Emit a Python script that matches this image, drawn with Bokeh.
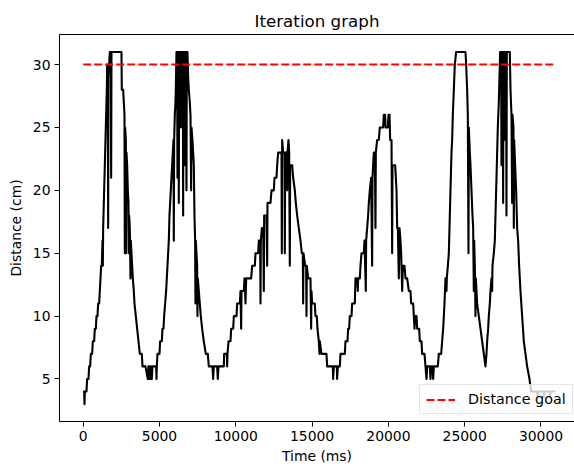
from bokeh.plotting import figure
from bokeh.models import (Range1d, SingleIntervalTicker, LinearAxis, FixedTicker,
                          Legend, LegendItem)
from bokeh.embed import file_html
from bokeh.resources import INLINE

title_text = "Iteration graph"
x_label = "Time (ms)"
y_label = "Distance (cm)"
goal_label = "Distance goal"
goal_distance = 30
goal_time = [0, 30949]

# ---- measured trace, first two peaks (0 .. ~8.9 s) ----
time_a = [0, 63, 85, 106, 215, 259, 347, 390, 456, 500,
          587, 631, 718, 762, 827, 871, 936, 980, 1045, 1089,
          1133, 1176, 1220, 1242, 1264, 1286, 1308, 1351, 1373, 1417,
          1438, 1482, 1504, 1548, 1570, 1613, 1635, 1657, 1700, 1744,
          1810, 1832, 1854, 2006, 2509, 2530, 2618, 2661, 2705, 2727,
          2749, 2793, 2814, 2836, 2880, 2924, 2967, 2989, 3011, 3055,
          3099, 3120, 3164, 3208, 3251, 3317, 3361, 3448, 3535, 3623,
          3710, 3841, 3885, 4081, 4234, 4278, 4322, 4365, 4409, 4453,
          4496, 4540, 4780, 4802, 4824, 4868, 4999, 5042, 5151, 5195,
          5261, 5304, 5370, 5435, 5479, 5523, 5566, 5610, 5654, 5697,
          5741, 5785, 5828, 5872, 5916, 5938, 5960, 6003, 6047, 6069,
          6113, 6156, 6178, 6200, 6244, 6265, 6287, 6375, 6397, 6419,
          6528, 6550, 6571, 6637, 6659, 6681, 6746, 6768, 6790, 6833,
          6877, 6921, 6986, 7030, 7074, 7095, 7160, 7204, 7248, 7292,
          7335, 7357, 7379, 7423, 7466, 7488, 7510, 7576, 7641, 7707,
          7794, 7903, 8034, 8165, 8231, 8471, 8515, 8559, 8777, 8821,
          8865]
dist_a = [4, 4, 3, 4, 4, 5, 5, 6, 6, 7,
          7, 8, 8, 9, 9, 10, 10, 11, 11, 12,
          13, 14, 14, 15, 16, 14, 17, 19, 20, 22,
          23, 25, 26, 28, 30, 30, 17, 29, 30, 31,
          31, 21, 31, 31, 31, 28, 28, 27, 26, 15,
          25, 24, 15, 23, 22, 20, 19, 15, 18, 17,
          13, 16, 15, 14, 13, 12, 11, 10, 9, 8,
          7, 7, 6, 6, 5, 6, 5, 6, 5, 6,
          5, 6, 6, 5, 6, 7, 7, 8, 8, 9,
          9, 10, 11, 12, 13, 14, 15, 16, 18, 19,
          20, 21, 22, 23, 24, 16, 24, 26, 27, 28,
          31, 31, 21, 31, 31, 19, 31, 31, 25, 31,
          31, 18, 31, 31, 22, 31, 31, 20, 31, 31,
          29, 28, 27, 26, 20, 25, 24, 23, 22, 18,
          16, 11, 16, 15, 14, 10, 13, 12, 11, 10,
          9, 8, 7, 7, 6, 6, 5, 6, 6, 5,
          6]

# ---- third peak and valley (~9 .. ~19.8 s) ----
time_b = [9216, 9238, 9413, 9435, 9457, 9522, 9653, 9697, 9828, 9872,
          10046, 10090, 10265, 10308, 10352, 10374, 10527, 10571, 10636, 10680,
          11007, 11073, 11248, 11291, 11466, 11510, 11597, 11619, 11641, 11706,
          11794, 11837, 11859, 12012, 12056, 12077, 12274, 12340, 12493, 12536,
          12667, 12711, 12776, 12995, 13017, 13038, 13104, 13191, 13213, 13235,
          13322, 13366, 13388, 13453, 13497, 13540, 13562, 13694, 13759, 13868,
          13934, 14021, 14130, 14240, 14327, 14392, 14414, 14436, 14545, 14611,
          14633, 14655, 14742, 14894, 14938, 14960, 15004, 15179, 15222, 15310,
          15353, 15441, 15484, 15506, 15616, 15943, 15987, 16358, 16380, 16424,
          16620, 16642, 16686, 16817, 16860, 17144, 17188, 17319, 17363, 17428,
          17472, 17581, 17625, 17800, 17843, 17952, 17996, 18018, 18127, 18171,
          18236, 18389, 18433, 18520, 18542, 18608, 18673, 18717, 18783, 18870,
          18935, 18957, 19001, 19045, 19110, 19154, 19176, 19263, 19372, 19438,
          19656, 19700, 19787]
dist_b = [6, 7, 7, 6, 7, 8, 8, 9, 9, 10,
          10, 11, 11, 12, 9, 12, 12, 13, 11, 13,
          13, 14, 14, 15, 15, 16, 16, 11, 16, 17,
          17, 12, 18, 18, 14, 19, 19, 20, 20, 21,
          21, 22, 23, 23, 15, 24, 23, 23, 15, 23,
          23, 20, 23, 24, 23, 14, 22, 22, 21, 20,
          19, 18, 17, 16, 15, 15, 11, 15, 14, 14,
          10, 14, 13, 13, 9, 12, 11, 11, 10, 10,
          9, 8, 7, 8, 7, 7, 6, 6, 5, 6,
          6, 5, 6, 6, 7, 7, 8, 8, 9, 9,
          10, 10, 11, 11, 13, 13, 12, 13, 13, 14,
          15, 15, 16, 12, 16, 17, 18, 19, 20, 21,
          14, 21, 22, 23, 23, 17, 23, 24, 24, 25,
          25, 26, 26]

# ---- fourth peak to the end (~19.8 .. ~31 s) ----
time_c = [19811, 19963, 20007, 20073, 20116, 20204, 20247, 20269, 20444, 20488,
          20531, 20575, 20619, 20684, 20728, 20793, 20837, 20903, 20946, 21055,
          21121, 21230, 21339, 21449, 21492, 21623, 21667, 21711, 21754, 21842,
          21885, 22016, 22060, 22169, 22213, 22366, 22431, 22497, 22541, 22715,
          22759, 22803, 22890, 22934, 22977, 23239, 23305, 23458, 23523, 23589,
          23633, 23676, 23742, 23807, 23829, 23895, 23960, 24004, 24047, 24091,
          24135, 24178, 24222, 24288, 24353, 24441, 25052, 25096, 25161, 25205,
          25249, 25271, 25336, 25380, 25445, 25511, 25555, 25598, 25620, 25664,
          25707, 25729, 25817, 25926, 26035, 26144, 26253, 26362, 26428, 26472,
          26537, 26581, 26647, 26690, 26756, 26799, 26821, 26909, 26974, 27018,
          27084, 27127, 27171, 27236, 27280, 27323, 27389, 27411, 27433, 27498,
          27520, 27542, 27629, 27651, 27673, 27716, 27738, 27760, 27957, 28001,
          28066, 28110, 28132, 28197, 28219, 28241, 28306, 28372, 28437, 28503,
          28568, 28656, 28765, 28874, 28984, 29093, 29246, 29356, 29749, 29771,
          29793, 30185, 30207, 30229, 30578, 30600, 30622, 30949]
dist_c = [25, 25, 26, 26, 24, 24, 15, 22, 22, 21,
          20, 17, 17, 13, 17, 16, 15, 12, 14, 14,
          13, 13, 12, 12, 11, 11, 10, 9, 10, 10,
          9, 9, 8, 8, 7, 7, 6, 5, 6, 6,
          5, 6, 6, 5, 6, 6, 7, 7, 8, 9,
          10, 11, 13, 12, 13, 14, 15, 17, 19, 21,
          23, 24, 26, 28, 30, 31, 31, 30, 28, 26,
          15, 25, 23, 22, 20, 18, 17, 12, 16, 14,
          10, 13, 11, 10, 9, 8, 7, 6, 7, 8,
          9, 10, 11, 12, 13, 12, 14, 15, 16, 18,
          21, 23, 25, 27, 29, 31, 31, 22, 31, 31,
          19, 31, 31, 24, 31, 31, 18, 31, 31, 28,
          26, 19, 26, 25, 17, 24, 22, 20, 17, 16,
          14, 12, 10, 8, 7, 6, 5, 4, 4, 3.6,
          4, 4, 3.6, 4, 4, 3.6, 4, 4]

time_ms = time_a + time_b + time_c
distance_cm = dist_a + dist_b + dist_c

FONT = "DejaVu Sans"

p = figure(width=574, height=466, output_backend="svg", toolbar_location=None,
           x_range=Range1d(-1553, 32196), y_range=Range1d(1.62, 32.39),
           min_border_left=59, min_border_right=0, min_border_top=34,
           min_border_bottom=45, background_fill_color="white",
           border_fill_color="white")

p.title.text = title_text
p.title.align = "center"
p.title.offset = 3
p.title.text_font = FONT
p.title.text_font_size = "16.7px"
p.title.text_font_style = "normal"
p.title.text_color = "black"
p.title.standoff = 7

p.outline_line_color = None
p.xgrid.visible = False
p.ygrid.visible = False

xb = p.below[0]
yl = p.left[0]

xb.ticker = SingleIntervalTicker(interval=5000, num_minor_ticks=0)
yl.ticker = SingleIntervalTicker(interval=5, num_minor_ticks=0)
xb.axis_label = x_label
yl.axis_label = y_label
for ax in (xb, yl):
    ax.axis_label_text_font = FONT
    ax.axis_label_text_font_size = "13.9px"
    ax.axis_label_text_font_style = "normal"
    ax.axis_label_text_color = "black"
    ax.major_label_text_font = FONT
    ax.major_label_text_font_size = "13.9px"
    ax.major_label_text_color = "black"
    ax.major_tick_out = 5
    ax.major_tick_in = 0
    ax.minor_tick_out = 0
    ax.minor_tick_in = 0
    ax.major_label_standoff = 4
    ax.axis_line_color = "black"
    ax.axis_line_width = 1
    ax.major_tick_line_color = "black"
    ax.major_tick_line_width = 1
xb.axis_label_standoff = 4
yl.axis_label_standoff = 6

top = LinearAxis(ticker=FixedTicker(ticks=[]), major_tick_out=0, major_tick_in=0,
                 minor_tick_out=0, minor_tick_in=0, axis_line_color="black",
                 axis_line_width=1, major_label_text_font_size="0px")
p.add_layout(top, "above")

p.line(time_ms, distance_cm, line_color="black", line_width=2.1, line_join="round")
goal = p.line(goal_time, [goal_distance, goal_distance], line_color="red",
              line_width=2.1, line_dash="8 3")

legend = Legend(items=[LegendItem(label=goal_label, renderers=[goal])],
                location=(360, 7), label_text_font=FONT,
                label_text_font_size="14.3px", label_text_color="black",
                glyph_width=29, glyph_height=15, label_height=15,
                padding=6, margin=0, label_standoff=13, spacing=0,
                border_line_color="#cccccc", border_line_width=1,
                background_fill_color="white", background_fill_alpha=0.8)
p.add_layout(legend)

open("out.html", "w").write(file_html(p, INLINE))
